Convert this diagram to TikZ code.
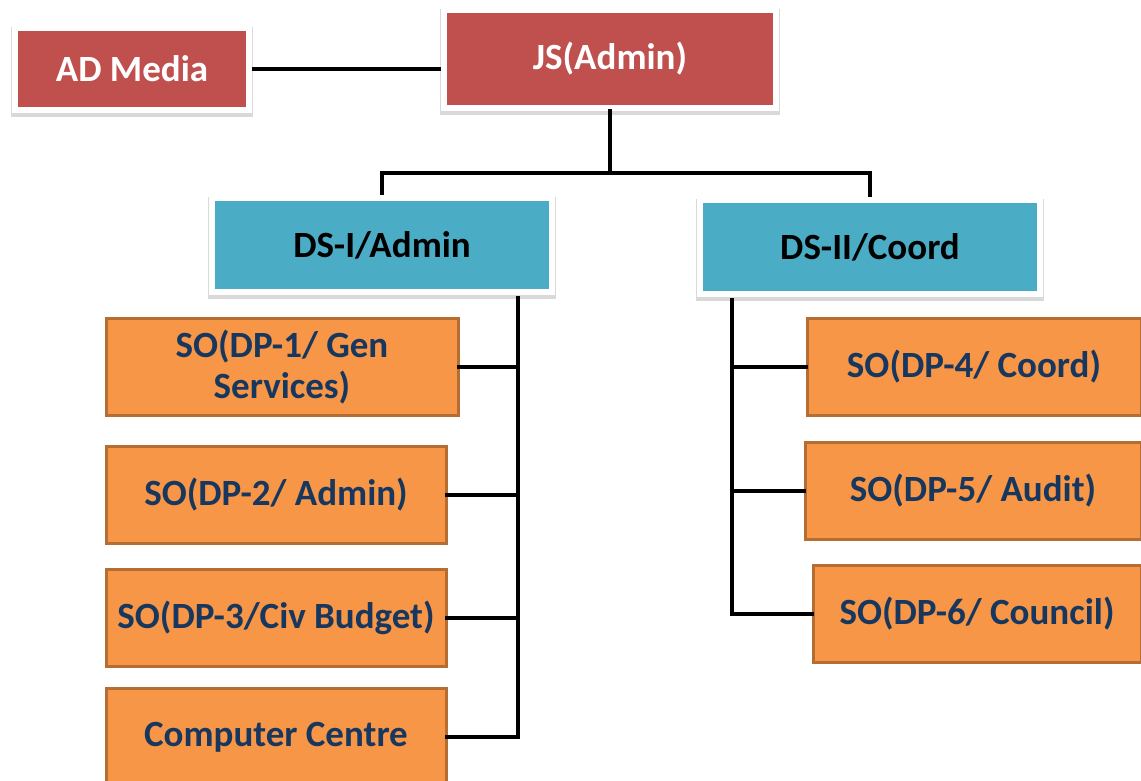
\documentclass[tikz,border=0pt]{standalone}
\usepackage{fontspec}
\setmainfont{Carlito}
\usepackage{tikz, color}
\usetikzlibrary{positioning, calc}
\definecolor{jsred}{HTML}{C0504D}
\definecolor{dsteal}{HTML}{4BACC6}
\definecolor{sofill}{HTML}{F79646}
\definecolor{soline}{HTML}{B66D31}
\definecolor{sotext}{HTML}{17375E}
\tikzset{
  chart/.style={
	x=1pt, y=-1pt, % one unit is one pixel of the chart, y grows downwards
	font=\bfseries\fontsize{37}{41}\selectfont, % bold text for every box
	every node/.style={align=center, inner sep=0pt},
  },
  framed/.style={
	draw=white, line width=6pt, % white frame round the box
	preaction={draw=black!15, fill=black!15, line width=8pt,
	  transform canvas={yshift=-3pt}}, % soft shadow below
  },
  headbox/.style={framed, fill=jsred, text=white},
  dsbox/.style={framed, fill=dsteal, text=black, minimum width=340pt, minimum height=94pt},
  sobox/.style={draw=soline, fill=sofill, line width=3pt, text=sotext, minimum height=97pt},
  link/.style={line width=4.5pt, line cap=rect},
  thin link/.style={line width=3.5pt},
}
\begin{document}
\begin{tikzpicture}[chart]
\useasboundingbox (0,0) rectangle (1141,780);
\begin{scope}
\clip (0,0) rectangle (1141,780);
% top level
\node[headbox, minimum width=234pt, minimum height=82pt] (admedia) at (132,69) {AD Media};
\node[headbox, minimum width=332pt, minimum height=98pt] (js) at (610,59) {JS(Admin)};
% deputy secretaries
\node[dsbox] (dsi) at (382,245) {DS-I/Admin};
\node[dsbox] (dsii) at (870,247) {DS-II/Coord};
% section officers, left
\node[sobox, minimum width=352pt] (dp1) at (282,367) {SO(DP-1/ Gen\\Services)};
\node[sobox, minimum width=340pt] (dp2) at (276,495) {SO(DP-2/ Admin)};
\node[sobox, minimum width=340pt] (dp3) at (276,618) {SO(DP-3/Civ Budget)};
\node[sobox, minimum width=340pt] (cc) at (276,737) {Computer Centre};
% section officers, right
\node[sobox, minimum width=334pt] (dp4) at (974,367) {SO(DP-4/ Coord)};
\node[sobox, minimum width=336pt] (dp5) at (973,491) {SO(DP-5/ Audit)};
\node[sobox, minimum width=328pt] (dp6) at (977,614) {SO(DP-6/ Council)};
\end{scope}

\coordinate (split) at (610,173);
\coordinate (ltrunk) at (518,298);
\coordinate (rtrunk) at (732,300);

\draw[thin link] (admedia.east) -- (admedia.east -| js.west);
\draw[link] (js.south) -- (split);
\draw[link, line cap=butt] (dsi.north) |- (split) -| (dsii.north);

\draw[link] (ltrunk) |- (cc.east);
\foreach \so in {dp1, dp2, dp3}
  \draw[link] (\so.east) -- (\so.east -| ltrunk);

\draw[link] (rtrunk) |- (dp6.west);
\foreach \so in {dp4, dp5}
  \draw[link] (\so.west) -- (\so.west -| rtrunk);
\end{tikzpicture}
\end{document}
